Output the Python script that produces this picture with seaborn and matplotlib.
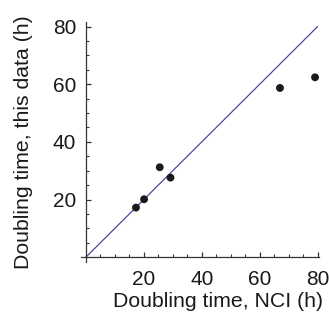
import matplotlib
matplotlib.use("Agg")
import matplotlib.pyplot as plt
import seaborn as sns
import pandas as pd
from matplotlib.ticker import MultipleLocator

# doubling times (h)
nci_hours = [17.3, 20.1, 25.5, 29.2, 67.0, 79.1]
this_hours = [17.2, 20.1, 31.2, 27.6, 58.7, 62.4]
diag = [0, 80]
major_ticks = [20, 40, 60, 80]

df = pd.DataFrame({"nci": nci_hours, "this": this_hours})

sns.set_style("ticks")
plt.rcParams["font.family"] = ["Liberation Sans", "DejaVu Sans"]

fig = plt.figure(figsize=(3.29, 3.22), dpi=100)
ax = fig.add_axes([0.246, 0.186, 0.723, 0.745])

sns.lineplot(x=diag, y=diag, ax=ax, color="#4040a0", linewidth=0.85)
sns.scatterplot(data=df, x="nci", y="this", ax=ax, color="#1a1a1a",
                s=32, edgecolor="none", zorder=3)

ax.set_xlim(-1.7, 80.4)
ax.set_ylim(-1.7, 81.5)

for side in ["top", "right"]:
    ax.spines[side].set_visible(False)
for side in ["left", "bottom"]:
    ax.spines[side].set_position(("data", 0))
    ax.spines[side].set_color("#333333")
    ax.spines[side].set_linewidth(0.9)

ax.set_xticks(major_ticks)
ax.set_yticks(major_ticks)
ax.xaxis.set_minor_locator(MultipleLocator(5))
ax.yaxis.set_minor_locator(MultipleLocator(5))
ax.tick_params(which="major", direction="in", length=3.6, width=0.9,
               color="#333333", labelsize=15, labelcolor="#1a1a1a")
ax.tick_params(which="minor", direction="in", length=2.4, width=0.8,
               color="#333333")
ax.tick_params(axis="x", pad=9)
ax.tick_params(axis="y", pad=7)

ax.set_xlabel("Doubling time, NCI (h)", fontsize=15.3, color="#1a1a1a",
              ha="right")
ax.xaxis.set_label_coords(1.02, -0.125)
ax.set_ylabel("Doubling time, this data (h)", fontsize=15.3, color="#1a1a1a")
ax.yaxis.set_label_coords(-0.2, 0.5)

fig.savefig("out.png", dpi=100)
